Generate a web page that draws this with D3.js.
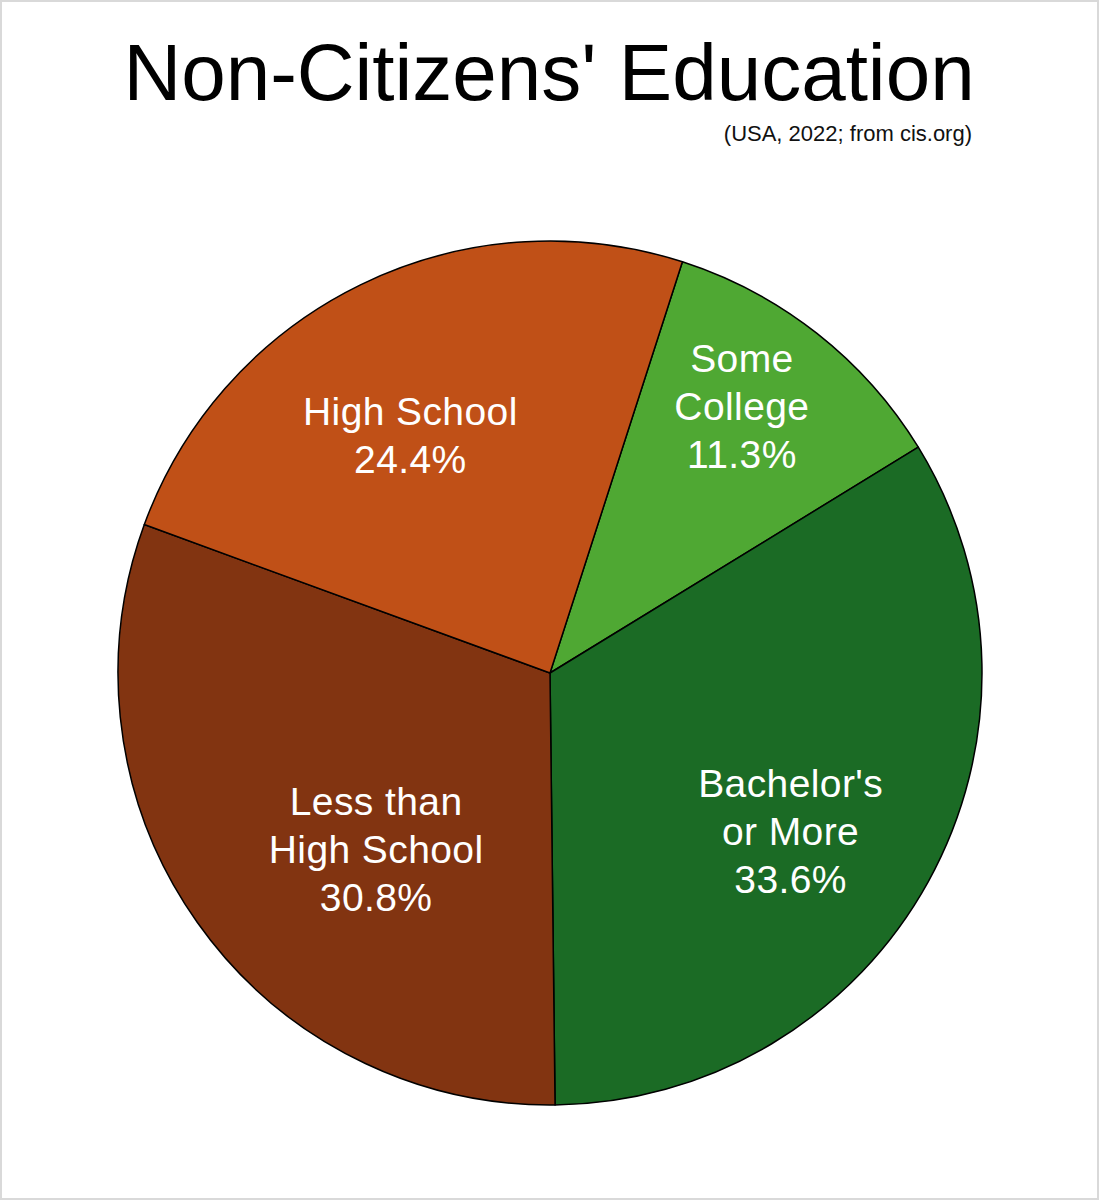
<!DOCTYPE html>
<html>
<head>
<meta charset="utf-8">
<script src="https://cdn.jsdelivr.net/npm/d3@7"></script>
<style>
  html, body { margin: 0; padding: 0; background: #fff; }
  svg { display: block; }
  text { font-family: "Liberation Sans", Arial, Helvetica, sans-serif; }
</style>
</head>
<body>
<svg id="chart" width="1099" height="1200"></svg>
<script>
// ---- data ----
const categories = ["Some College", "Bachelor's or More", "Less than High School", "High School"];
const labelLines = [["Some", "College"], ["Bachelor's", "or More"], ["Less than", "High School"], ["High School"]];
const values = [11.3, 33.6, 30.8, 24.4];
const colors = ["#4fa833", "#1b6b25", "#823411", "#c05017"];

const title = "Non-Citizens' Education";
const subtitle = "(USA, 2022; from cis.org)";

// ---- layout ----
const W = 1099, H = 1200;
const cx = 550, cy = 673, R = 432;
const startDeg = 17.85;
const labelR = 300;
const labelNudge = [[6.5, -31], [-22, 13.5], [71, 3.5], [-8, 32.5]];
const fontSize = 39, lineH = 48, capH = 27;

const svg = d3.select("#chart");

svg.append("rect")
  .attr("x", 1).attr("y", 1).attr("width", W - 2).attr("height", H - 2)
  .attr("fill", "#fff").attr("stroke", "#d9d9d9").attr("stroke-width", 2);

svg.append("text")
  .attr("x", 549).attr("y", 100)
  .attr("text-anchor", "middle")
  .attr("font-size", 80)
  .attr("fill", "#000")
  .text(title);

svg.append("text")
  .attr("x", 972).attr("y", 141)
  .attr("text-anchor", "end")
  .attr("font-size", 22)
  .attr("fill", "#111")
  .text(subtitle);

const a0 = startDeg * Math.PI / 180;
const pie = d3.pie().sort(null).value(d => d.value)
  .startAngle(a0).endAngle(a0 + 2 * Math.PI);

const data = categories.map((c, i) => ({ cat: c, value: values[i], color: colors[i], lines: labelLines[i], idx: i }));
const arcs = pie(data);

const arc = d3.arc().innerRadius(0).outerRadius(R);
const labelArc = d3.arc().innerRadius(labelR).outerRadius(labelR);

const g = svg.append("g").attr("transform", `translate(${cx},${cy})`);

g.selectAll("path.slice")
  .data(arcs)
  .join("path")
  .attr("class", "slice")
  .attr("d", arc)
  .attr("fill", d => d.data.color)
  .attr("stroke", "#000")
  .attr("stroke-width", 1.5)
  .attr("stroke-linejoin", "round");

g.selectAll("text.lbl")
  .data(arcs)
  .join("text")
  .attr("class", "lbl")
  .attr("text-anchor", "middle")
  .attr("font-size", fontSize)
  .attr("letter-spacing", 0.4)
  .attr("fill", "#fff")
  .each(function (d) {
    const [x0, y0] = labelArc.centroid(d);
    const nudge = labelNudge[d.data.idx];
    const x = x0 + nudge[0], y = y0 + nudge[1];
    const lines = d.data.lines.concat([d3.format(".1f")(d.data.value) + "%"]);
    const n = lines.length;
    const firstBase = y - (n - 1) * lineH / 2 + capH / 2;
    const t = d3.select(this);
    lines.forEach((ln, k) => {
      t.append("tspan").attr("x", x).attr("y", firstBase + k * lineH).text(ln);
    });
  });
</script>
</body>
</html>
